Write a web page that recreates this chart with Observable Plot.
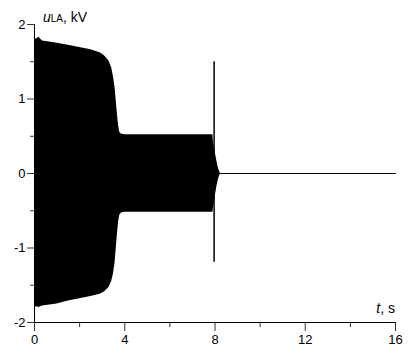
<!DOCTYPE html>
<html>
<head>
<meta charset="utf-8">
<script src="https://cdn.jsdelivr.net/npm/d3@7"></script>
<script src="https://cdn.jsdelivr.net/npm/@observablehq/plot@0.6"></script>
<style>
  html, body { margin: 0; padding: 0; background: #fff; }
  #chart { width: 410px; height: 347px; }
</style>
</head>
<body>
<div id="chart"></div>
<script>
// Envelope of the oscillating voltage (kV) vs time (s)
const envT  = [0, 0.1, 0.2, 0.35, 0.6, 1.0, 1.5, 2.0, 2.5, 2.9, 3.1, 3.3, 3.42, 3.5, 3.57, 3.63, 3.68, 3.73, 3.78, 3.85, 4.0, 6.0, 7.91, 7.93, 8.0, 8.08, 8.15, 8.23];
const envHi = [1.80, 1.81, 1.83, 1.78, 1.77, 1.75, 1.72, 1.69, 1.66, 1.62, 1.58, 1.51, 1.42, 1.30, 1.15, 0.95, 0.78, 0.63, 0.55, 0.53, 0.52, 0.52, 0.52, 0.42, 0.30, 0.17, 0.07, 0.01];
const envLo = [-1.80, -1.79, -1.80, -1.78, -1.77, -1.75, -1.71, -1.68, -1.65, -1.62, -1.59, -1.53, -1.45, -1.35, -1.20, -0.98, -0.80, -0.64, -0.56, -0.53, -0.52, -0.52, -0.52, -0.47, -0.33, -0.18, -0.08, -0.01];

// Residual after 8.2 s
const tailT = [8.2, 16];
const tailU = [0, 0];

// Transient spike near 8 s
const spikeT   = [7.96];
const spikeMin = [-1.19];
const spikeMax = [1.50];

// Ticks
const xTicks = [0, 4, 8, 12, 16];
const xMinor = [2, 6, 10, 14];
const yTicks = [-2, -1, 0, 1, 2];
const yMinor = [-1.5, -0.5, 0.5, 1.5];

const env = envT.map((t, i) => ({t, hi: envHi[i], lo: envLo[i]}));
const tail = tailT.map((t, i) => ({t, u: tailU[i]}));
const spike = spikeT.map((t, i) => ({t, lo: spikeMin[i], hi: spikeMax[i]}));

const chart = Plot.plot({
  width: 410,
  height: 347,
  marginLeft: 34,
  marginRight: 15,
  marginTop: 24,
  marginBottom: 25,
  x: {domain: [0, 16]},
  y: {domain: [-2, 2]},
  style: {fontFamily: "'Liberation Sans', Arial, sans-serif", fontSize: "13px", color: "#000", background: "#fff"},
  marks: [
    Plot.areaY(env, {x: "t", y1: "lo", y2: "hi", fill: "#000"}),
    Plot.line(tail, {x: "t", y: "u", stroke: "#000", strokeWidth: 1.2}),
    Plot.ruleX(spike, {x: "t", y1: "lo", y2: "hi", stroke: "#000", strokeWidth: 1.5}),
    Plot.ruleX([0], {y1: -2, y2: 2, stroke: "#000", strokeWidth: 1}),
    Plot.ruleY([-2], {x1: 0, x2: 16, stroke: "#000", strokeWidth: 1}),
    Plot.axisX({ticks: xTicks, tickSize: 9, tickPadding: 3, tickFormat: d => String(d), label: null, stroke: "#000", strokeOpacity: 0.8, fontSize: 13}),
    Plot.axisX({ticks: xMinor, tickSize: 5, text: null, label: null, stroke: "#000", strokeOpacity: 0.8}),
    Plot.axisY({ticks: yTicks, tickSize: 7, tickPadding: 2, tickFormat: d => String(d), label: null, stroke: "#000", strokeOpacity: 0.8, fontSize: 13}),
    Plot.axisY({ticks: yMinor, tickSize: 4, text: null, label: null, stroke: "#000", strokeOpacity: 0.8})
  ]
});

document.getElementById("chart").appendChild(chart);

const svg = d3.select(chart);
const yl = svg.append("text")
  .attr("x", 43).attr("y", 22)
  .attr("text-anchor", "start")
  .attr("font-family", "'Liberation Sans', Arial, sans-serif")
  .attr("font-size", 14).attr("fill", "#000");
yl.append("tspan").attr("font-style", "italic").text("u");
yl.append("tspan").attr("font-size", 10).text("LA");
yl.append("tspan").text(", kV");

const xl = svg.append("text")
  .attr("x", 395).attr("y", 313)
  .attr("text-anchor", "end")
  .attr("font-family", "'Liberation Sans', Arial, sans-serif")
  .attr("font-size", 14).attr("fill", "#000");
xl.append("tspan").attr("font-style", "italic").text("t");
xl.append("tspan").text(", s");
</script>
</body>
</html>
